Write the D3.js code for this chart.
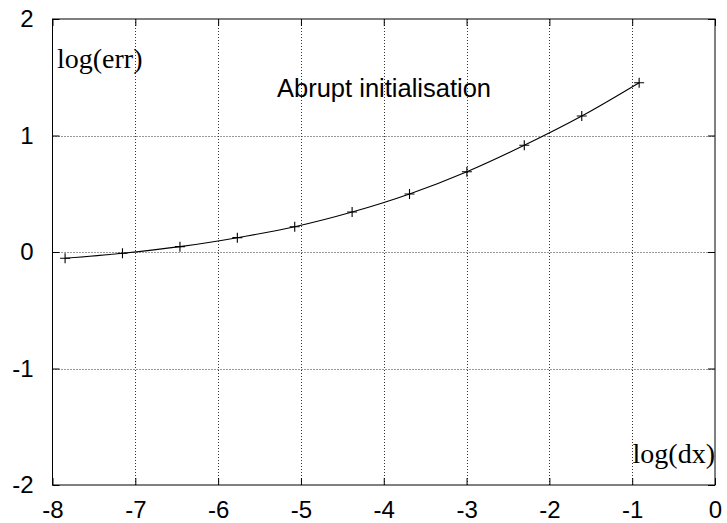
<!DOCTYPE html>
<html>
<head>
<meta charset="utf-8">
<script src="https://cdn.jsdelivr.net/npm/d3@7"></script>
<style>
  html, body { margin: 0; padding: 0; background: #fff; }
  svg { display: block; }
</style>
</head>
<body>
<svg id="chart" width="727" height="523"></svg>
<script>
// log(dx) for successively halved step sizes, and the matching log(err)
const logDx = [-7.848, -7.155, -6.461, -5.768, -5.075, -4.382, -3.689, -2.996, -2.303, -1.609, -0.916];
const logErr = [-0.054, -0.011, 0.046, 0.123, 0.217, 0.343, 0.498, 0.689, 0.916, 1.167, 1.453];
const xTicks = [-8, -7, -6, -5, -4, -3, -2, -1, 0];
const yTicks = [-2, -1, 0, 1, 2];
const title = "Abrupt initialisation";
const xLabel = "log(dx)";
const yLabel = "log(err)";

(function draw() {
  const svg = d3.select("#chart");
  const plotL = 52.5, plotR = 715, plotT = 19, plotB = 485;

  const x = d3.scaleLinear().domain([-8, 0]).range([plotL, plotR]);
  const y = d3.scaleLinear().domain([-2, 2]).range([plotB, plotT]);

  const sans = "Liberation Sans, Arial, sans-serif";
  const serif = "Liberation Serif, Times New Roman, serif";
  const fmt = d => String(d); // plain hyphen-minus

  // dotted grid
  const grid = svg.append("g").attr("stroke", "#333").attr("stroke-width", 1)
    .attr("stroke-dasharray", "1,2");
  grid.selectAll("line.gx").data(xTicks.slice(1, -1)).join("line")
    .attr("x1", d => Math.round(x(d)) + 0.5).attr("x2", d => Math.round(x(d)) + 0.5)
    .attr("y1", plotT).attr("y2", plotB);
  grid.selectAll("line.gy").data(yTicks.slice(1, -1)).join("line")
    .attr("y1", d => Math.round(y(d)) + 0.5).attr("y2", d => Math.round(y(d)) + 0.5)
    .attr("x1", plotL).attr("x2", plotR);

  // axes with inward ticks on all four sides
  const tickLen = 7;
  const axB = svg.append("g").attr("transform", `translate(0,${plotB})`)
    .call(d3.axisBottom(x).tickValues(xTicks).tickSize(-tickLen).tickPadding(16).tickFormat(fmt));
  const axT = svg.append("g").attr("transform", `translate(0,${plotT})`)
    .call(d3.axisTop(x).tickValues(xTicks).tickSize(-tickLen).tickFormat(""));
  const axL = svg.append("g").attr("transform", `translate(${plotL},0)`)
    .call(d3.axisLeft(y).tickValues(yTicks).tickSize(-tickLen).tickPadding(19).tickFormat(fmt));
  const axR = svg.append("g").attr("transform", `translate(${plotR},0)`)
    .call(d3.axisRight(y).tickValues(yTicks).tickSize(-tickLen).tickFormat(""));

  [axB, axT, axL, axR].forEach(a => {
    a.select(".domain").remove();
    a.selectAll(".tick line").attr("stroke", "#000");
    a.selectAll("text").attr("font-family", sans).attr("font-size", 24).attr("fill", "#000");
  });

  // frame
  svg.append("rect")
    .attr("x", plotL).attr("y", plotT)
    .attr("width", plotR - plotL).attr("height", plotB - plotT)
    .attr("fill", "none").attr("stroke", "#000").attr("stroke-width", 1);

  // curve through the points
  const pts = logDx.map((d, i) => [d, logErr[i]]);
  svg.append("path")
    .datum(pts)
    .attr("fill", "none").attr("stroke", "#000").attr("stroke-width", 1.1)
    .attr("d", d3.line().x(d => x(d[0])).y(d => y(d[1])).curve(d3.curveMonotoneX));

  // point markers
  const s = 5;
  svg.append("g").selectAll("path").data(pts).join("path")
    .attr("stroke", "#000").attr("stroke-width", 1.1).attr("fill", "none")
    .attr("d", d => {
      const px = x(d[0]), py = y(d[1]);
      return `M${px - s},${py}H${px + s}M${px},${py - s}V${py + s}`;
    });

  // labels
  svg.append("text").attr("x", 57).attr("y", 68)
    .attr("font-family", serif).attr("font-size", 28).attr("fill", "#000").text(yLabel);
  svg.append("text").attr("x", 715).attr("y", 463).attr("text-anchor", "end")
    .attr("font-family", serif).attr("font-size", 28).attr("fill", "#000").text(xLabel);
  svg.append("text").attr("x", 277).attr("y", 96.5)
    .attr("font-family", sans).attr("font-size", 25.5).attr("fill", "#000").text(title);
})();
</script>
</body>
</html>
